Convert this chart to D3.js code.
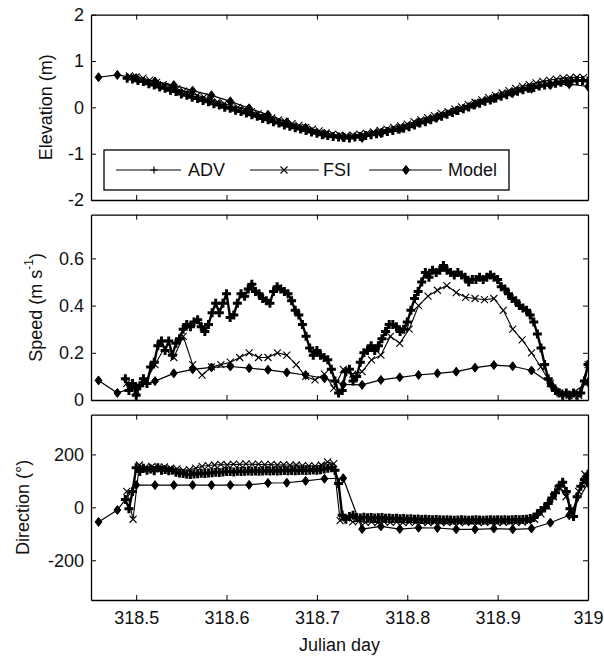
<!DOCTYPE html>
<html>
<head>
<meta charset="utf-8">
<script src="https://cdn.jsdelivr.net/npm/d3@7"></script>
<style>
  html, body { margin: 0; padding: 0; background: #fff; }
  svg { display: block; font-family: "Liberation Sans", Arial, Helvetica, sans-serif; }
</style>
</head>
<body>
<svg id="chart" width="604" height="659"></svg>
<script>
// ---------------- Data ----------------
// Julian day axis
const xDomain = [318.45, 319];
const xTicks = [318.5, 318.6, 318.7, 318.8, 318.9, 319];
const xTickLabels = ["318.5", "318.6", "318.7", "318.8", "318.9", "319"];

const elevTicks = [-2, -1, 0, 1, 2];
const elevTickLabels = ["-2", "-1", "0", "1", "2"];
const speedTicks = [0, 0.2, 0.4, 0.6];
const speedTickLabels = ["0", "0.2", "0.4", "0.6"];
const dirTicks = [-200, 0, 200];
const dirTickLabels = ["-200", "0", "200"];

// ADV current meter: elevation sampled every 0.006 d, speed/direction every 0.004 d
const advElevStart = 318.49, advElevStep = 0.006;
const advElevation = [
  0.63, 0.61, 0.58, 0.56, 0.51, 0.48, 0.44, 0.41, 0.37, 0.34,
  0.29, 0.26, 0.22, 0.19, 0.15, 0.12, 0.08, 0.05, 0.00, -0.02,
  -0.06, -0.09, -0.12, -0.16, -0.19, -0.24, -0.27, -0.31, -0.34, -0.38,
  -0.41, -0.44, -0.47, -0.50, -0.53, -0.56, -0.59, -0.61, -0.63, -0.64,
  -0.65, -0.66, -0.64, -0.63, -0.61, -0.59, -0.57, -0.55, -0.52, -0.50,
  -0.47, -0.45, -0.42, -0.38, -0.34, -0.31, -0.27, -0.23, -0.19, -0.15,
  -0.11, -0.07, -0.03, 0.01, 0.05, 0.09, 0.13, 0.16, 0.20, 0.24,
  0.27, 0.31, 0.35, 0.38, 0.41, 0.43, 0.46, 0.48, 0.50, 0.52,
  0.54, 0.56, 0.57, 0.58, 0.58, 0.57
];

const advStart = 318.488, advStep = 0.004;
const advSpeed = [
  0.09, 0.04, 0.07, 0.02, 0.06, 0.09, 0.07, 0.14, 0.16, 0.23,
  0.25, 0.21, 0.25, 0.19, 0.24, 0.26, 0.30, 0.32, 0.31, 0.33,
  0.34, 0.31, 0.29, 0.32, 0.37, 0.41, 0.37, 0.41, 0.45, 0.35,
  0.36, 0.41, 0.45, 0.44, 0.47, 0.49, 0.46, 0.45, 0.43, 0.42,
  0.41, 0.46, 0.48, 0.47, 0.46, 0.45, 0.42, 0.38, 0.36, 0.32,
  0.27, 0.22, 0.19, 0.21, 0.19, 0.18, 0.17, 0.13, 0.08, 0.03,
  0.04, 0.12, 0.13, 0.08, 0.10, 0.16, 0.20, 0.21, 0.23, 0.21,
  0.23, 0.26, 0.29, 0.32, 0.32, 0.31, 0.29, 0.30, 0.33, 0.38,
  0.43, 0.46, 0.50, 0.54, 0.52, 0.55, 0.54, 0.55, 0.57, 0.55,
  0.54, 0.53, 0.54, 0.53, 0.52, 0.50, 0.51, 0.51, 0.52, 0.51,
  0.52, 0.53, 0.52, 0.51, 0.48, 0.47, 0.45, 0.43, 0.42, 0.40,
  0.39, 0.38, 0.36, 0.33, 0.28, 0.22, 0.15, 0.09, 0.06, 0.04,
  0.03, 0.02, 0.03, 0.02, 0.03, 0.02, 0.03, 0.08, 0.15
];
const advDirection = [
  30, -5, 60, 150, 135, 148, 140, 145, 138, 150,
  140, 143, 138, 140, 133, 130, 128, 125, 124, 126,
  127, 129, 128, 130, 131, 133, 132, 134, 135, 135,
  134, 136, 135, 136, 137, 136, 137, 136, 137, 138,
  137, 138, 137, 138, 139, 138, 139, 138, 139, 140,
  139, 140, 141, 140, 142, 145, 148, 150, 140, 90,
  -30, -45, -35, -30, -38, -40, -37, -39, -38, -40,
  -39, -38, -41, -40, -42, -41, -43, -42, -44, -43,
  -45, -44, -46, -45, -46, -47, -46, -47, -48, -47,
  -48, -49, -48, -47, -48, -49, -48, -47, -48, -49,
  -48, -47, -48, -47, -48, -47, -48, -47, -46, -47,
  -46, -45, -42, -38, -25, -12, -2, 15, 35, 55,
  80, 95, 60, -5, -35, 40, 80, 105, 125
];

// FSI current meter
const fsiElevStart = 318.4925, fsiElevStep = 0.0075;
const fsiElevation = [
  0.68, 0.66, 0.63, 0.59, 0.54, 0.49, 0.45, 0.40, 0.35, 0.30,
  0.26, 0.22, 0.17, 0.12, 0.08, 0.04, 0.00, -0.04, -0.09, -0.14,
  -0.18, -0.23, -0.27, -0.31, -0.35, -0.39, -0.43, -0.47, -0.51, -0.55,
  -0.58, -0.60, -0.61, -0.60, -0.58, -0.56, -0.53, -0.50, -0.47, -0.43,
  -0.40, -0.36, -0.31, -0.27, -0.22, -0.18, -0.13, -0.09, -0.04, 0.01,
  0.06, 0.11, 0.16, 0.21, 0.26, 0.31, 0.36, 0.41, 0.45, 0.49,
  0.53, 0.56, 0.59, 0.61, 0.63, 0.64, 0.65, 0.64
];

const fsiSpeedStart = 318.489583, fsiSpeedStep = 1 / 96;
const fsiSpeed = [
  0.07, 0.04, 0.08, 0.15, 0.22, 0.18, 0.27, 0.15, 0.105, 0.14,
  0.15, 0.16, 0.18, 0.20, 0.18, 0.18, 0.20, 0.19, 0.15, 0.10,
  0.085, 0.11, 0.05, 0.13, 0.11, 0.12, 0.17, 0.19, 0.27, 0.24,
  0.30, 0.40, 0.44, 0.465, 0.485, 0.455, 0.435, 0.43, 0.425, 0.43,
  0.38, 0.30, 0.255, 0.20, 0.14, 0.07, 0.03, 0.02, 0.02, 0.15
];

const fsiDirStart = 318.489583, fsiDirStep = 1 / 144;
const fsiDirection = [
  60, -45, 160, 152, 155, 150, 153, 148, 145, 140,
  142, 148, 155, 158, 160, 162, 160, 163, 162, 164,
  162, 163, 161, 162, 160, 161, 159, 160, 158, 157,
  156, 160, 172, 165, -50, -40, -55, -52, -57, -55,
  -58, -54, -57, -55, -58, -56, -57, -55, -58, -56,
  -57, -58, -56, -58, -57, -56, -58, -57, -56, -58,
  -57, -55, -58, -56, -54, -45, -25, 5, 40, 75,
  40, -20, 60, 125
];

// Model output every 30 minutes
const modelStart = 318.458333, modelStep = 1 / 48;
const modelElevation = [
  0.65, 0.70, 0.63, 0.56, 0.48, 0.36, 0.26, 0.13, -0.02, -0.16,
  -0.32, -0.44, -0.57, -0.65, -0.66, -0.56, -0.47, -0.33, -0.20, -0.07,
  0.07, 0.19, 0.31, 0.40, 0.48, 0.50, 0.45
];
const modelSpeed = [
  0.083, 0.030, 0.055, 0.080, 0.113, 0.130, 0.138, 0.142, 0.135, 0.128,
  0.117, 0.106, 0.092, 0.066, 0.064, 0.085, 0.096, 0.106, 0.113, 0.120,
  0.137, 0.148, 0.143, 0.125, 0.070, 0.020, 0.075
];
const modelDirection = [
  -55, -10, 84, 84, 84, 84, 84, 84, 85, 92,
  93, 100, 108, 110, -82, -72, -82, -77, -78, -83,
  -83, -80, -83, -80, -58, -30, 92
];

const seriesNames = ["ADV", "FSI", "Model"];

// ---------------- Helpers ----------------
function series(start, step, values) {
  return values.map((v, i) => ({ t: start + i * step, v }));
}
function labelsFor(ticks, labels) {
  return d => labels[ticks.indexOf(d)];
}

const markerPath = {
  ADV: "M-4.5,0H4.5M0,-4.5V4.5",
  FSI: "M-3.5,-3.5L3.5,3.5M-3.5,3.5L3.5,-3.5",
  Model: "M0,-4.5L3.4,0L0,4.5L-3.4,0Z"
};
const markerStyle = {
  ADV: { fill: "none", stroke: "#000", width: 3, line: 2.4 },
  FSI: { fill: "none", stroke: "#000", width: 1.1, line: 1.1 },
  Model: { fill: "#000", stroke: "#000", width: 1, line: 1.2 }
};

// ---------------- Layout ----------------
const svg = d3.select("#chart");
const left = 91, right = 588;
const x = d3.scaleLinear().domain(xDomain).range([left, right]);

const panels = [
  {
    id: "elev", top: 14.7, bottom: 200, domain: [-2, 2],
    ticks: elevTicks, labels: elevTickLabels, labelX: 46,
    data: {
      ADV: series(advElevStart, advElevStep, advElevation),
      FSI: series(fsiElevStart, fsiElevStep, fsiElevation),
      Model: series(modelStart, modelStep, modelElevation)
    }
  },
  {
    id: "speed", top: 214.7, bottom: 400, domain: [0, 0.785],
    ticks: speedTicks, labels: speedTickLabels, labelX: 36,
    data: {
      ADV: series(advStart, advStep, advSpeed),
      FSI: series(fsiSpeedStart, fsiSpeedStep, fsiSpeed),
      Model: series(modelStart, modelStep, modelSpeed)
    }
  },
  {
    id: "dir", top: 414.7, bottom: 600, domain: [-350, 350],
    ticks: dirTicks, labels: dirTickLabels, labelX: 23,
    data: {
      ADV: series(advStart, advStep, advDirection),
      FSI: series(fsiDirStart, fsiDirStep, fsiDirection),
      Model: series(modelStart, modelStep, modelDirection)
    }
  }
];

const FONT = 18;

panels.forEach((p, pi) => {
  const y = d3.scaleLinear().domain(p.domain).range([p.bottom, p.top]);
  const g = svg.append("g");

  // clipping to the axes box
  svg.append("clipPath").attr("id", "clip-" + p.id)
    .append("rect").attr("x", left).attr("y", p.top)
    .attr("width", right - left).attr("height", p.bottom - p.top);

  const plot = g.append("g").attr("clip-path", `url(#clip-${p.id})`);

  const line = d3.line().x(d => x(d.t)).y(d => y(d.v));

  seriesNames.forEach(name => {
    const data = p.data[name];
    const st = markerStyle[name];
    plot.append("path").datum(data)
      .attr("d", line).attr("fill", "none")
      .attr("stroke", "#000").attr("stroke-width", st.line)
      .attr("stroke-linejoin", "round");
    plot.append("g").selectAll("path").data(data).join("path")
      .attr("d", markerPath[name])
      .attr("transform", d => `translate(${x(d.t)},${y(d.v)})`)
      .attr("fill", st.fill).attr("stroke", st.stroke)
      .attr("stroke-width", st.width);
  });

  // axes with inward ticks on all four sides
  const axL = d3.axisLeft(y).tickValues(p.ticks).tickFormat(labelsFor(p.ticks, p.labels))
    .tickSizeInner(-5).tickSizeOuter(0).tickPadding(7);
  const axR = d3.axisRight(y).tickValues(p.ticks).tickFormat("")
    .tickSizeInner(-5).tickSizeOuter(0);
  const axT = d3.axisTop(x).tickValues(xTicks).tickFormat("")
    .tickSizeInner(-5).tickSizeOuter(0);
  const axB = d3.axisBottom(x).tickValues(xTicks)
    .tickFormat(pi === 2 ? labelsFor(xTicks, xTickLabels) : "")
    .tickSizeInner(-5).tickSizeOuter(0).tickPadding(11);

  const axes = [
    g.append("g").attr("transform", `translate(${left},0)`).call(axL),
    g.append("g").attr("transform", `translate(${right},0)`).call(axR),
    g.append("g").attr("transform", `translate(0,${p.top})`).call(axT),
    g.append("g").attr("transform", `translate(0,${p.bottom})`).call(axB)
  ];
  axes.forEach(a => {
    a.selectAll("path.domain").attr("stroke", "#000").attr("stroke-width", 1.3);
    a.selectAll(".tick line").attr("stroke", "#000").attr("stroke-width", 1);
    a.selectAll("text").attr("font-size", FONT).attr("fill", "#111")
      .attr("font-family", "'Liberation Sans', Arial, sans-serif");
  });

  // y-axis title
  const cy = (p.top + p.bottom) / 2;
  const title = g.append("text")
    .attr("transform", `translate(${p.labelX},${cy}) rotate(-90)`)
    .attr("text-anchor", "middle").attr("dominant-baseline", "central")
    .attr("font-size", FONT).attr("fill", "#111");
  if (p.id === "elev") {
    title.text("Elevation (m)");
  } else if (p.id === "speed") {
    title.append("tspan").text("Speed (m s");
    title.append("tspan").attr("dy", -7).attr("font-size", 12).text("-1");
    title.append("tspan").attr("dy", 7).text(")");
  } else {
    title.text("Direction (°)");
  }
});

// x-axis title
svg.append("text")
  .attr("x", (left + right) / 2).attr("y", 651)
  .attr("text-anchor", "middle").attr("font-size", FONT).attr("fill", "#111")
  .text("Julian day");

// ---------------- Legend ----------------
const legend = svg.append("g");
legend.append("rect").attr("x", 104).attr("y", 150)
  .attr("width", 405).attr("height", 40)
  .attr("fill", "#fff").attr("stroke", "#000").attr("stroke-width", 1.3);

const legendItems = [
  { name: "ADV", x1: 116, x2: 181, mx: 154, tx: 188 },
  { name: "FSI", x1: 250, x2: 319, mx: 284, tx: 323 },
  { name: "Model", x1: 369, x2: 442, mx: 406, tx: 448 }
];
legendItems.forEach(it => {
  const st = markerStyle[it.name];
  legend.append("line").attr("x1", it.x1).attr("x2", it.x2)
    .attr("y1", 170).attr("y2", 170).attr("stroke", "#000").attr("stroke-width", 1.2);
  legend.append("path").attr("d", it.name === "ADV" ? "M-3.5,0H3.5M0,-3.5V3.5" : markerPath[it.name])
    .attr("transform", `translate(${it.mx},170)`)
    .attr("fill", st.fill).attr("stroke", st.stroke)
    .attr("stroke-width", it.name === "ADV" ? 1.2 : st.width);
  legend.append("text").attr("x", it.tx).attr("y", 170)
    .attr("dominant-baseline", "central").attr("font-size", FONT).attr("fill", "#111")
    .text(it.name);
});
</script>
</body>
</html>
